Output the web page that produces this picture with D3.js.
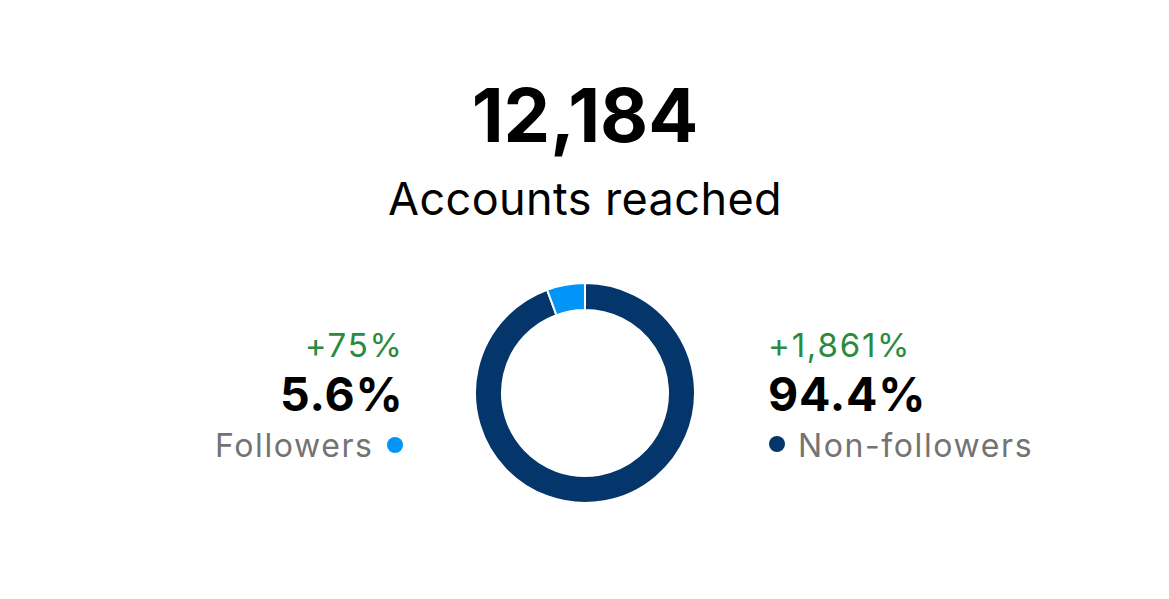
<!DOCTYPE html>
<html><head><meta charset="utf-8">
<script src="https://cdn.jsdelivr.net/npm/d3@7"></script>
<style>html,body{margin:0;padding:0;background:#fff;}svg{display:block;font-family:Inter,"Liberation Sans",sans-serif;}</style>
</head><body>
<svg id="c" width="1169" height="599"></svg>
<script>
const totalValue = "12,184";
const totalLabel = "Accounts reached";
const categories = ["Followers", "Non-followers"];
const shares = [5.6, 94.4];
const shareLabels = ["5.6%", "94.4%"];
const changes = ["+75%", "+1,861%"];
const colors = ["#0095f6", "#05366b"];

const svg = d3.select("#c");
const cx = 585, cy = 393, rOut = 110, rIn = 83;

svg.append("text").attr("x", cx).attr("y", 142).attr("text-anchor", "middle")
  .attr("font-size", 74).attr("font-weight", 700).attr("fill", "#000").text(totalValue);
svg.append("text").attr("x", cx).attr("y", 215).attr("text-anchor", "middle")
  .attr("font-size", 45).attr("letter-spacing", 0.4).attr("font-weight", 400).attr("fill", "#000").text(totalLabel);

// pie: non-followers first clockwise from top, followers last
const order = [1, 0];
const pie = d3.pie().sort(null).value(i => shares[i]);
const arc = d3.arc().innerRadius(rIn).outerRadius(rOut);
const g = svg.append("g").attr("transform", `translate(${cx},${cy})`);
g.selectAll("path").data(pie(order)).join("path")
  .attr("d", arc).attr("fill", d => colors[d.data])
  .attr("stroke", "#fff").attr("stroke-width", 2);

// left (followers)
const L = 402;
svg.append("text").attr("x", L + 1.8).attr("y", 357).attr("text-anchor", "end")
  .attr("font-size", 33).attr("letter-spacing", 1.8).attr("fill", "#2a8a3e").text(changes[0]);
svg.append("text").attr("x", L + 1.5).attr("y", 411).attr("text-anchor", "end")
  .attr("font-size", 46.5).attr("letter-spacing", 0.8).attr("font-weight", 700).attr("fill", "#000").text(shareLabels[0]);
svg.append("circle").attr("cx", 395).attr("cy", 445).attr("r", 8).attr("fill", colors[0]);
svg.append("text").attr("x", 373.6).attr("y", 457).attr("text-anchor", "end")
  .attr("font-size", 32).attr("letter-spacing", 1.6).attr("fill", "#737373").text(categories[0]);

// right (non-followers)
const R = 768;
svg.append("text").attr("x", R).attr("y", 357)
  .attr("font-size", 33).attr("letter-spacing", 1.8).attr("fill", "#2a8a3e").text(changes[1]);
svg.append("text").attr("x", R).attr("y", 411)
  .attr("font-size", 46.5).attr("letter-spacing", 0.8).attr("font-weight", 700).attr("fill", "#000").text(shareLabels[1]);
svg.append("circle").attr("cx", 777).attr("cy", 444).attr("r", 8).attr("fill", colors[1]);
svg.append("text").attr("x", 798).attr("y", 457)
  .attr("font-size", 32).attr("letter-spacing", 1.6).attr("fill", "#737373").text(categories[1]);
</script>
</body></html>
